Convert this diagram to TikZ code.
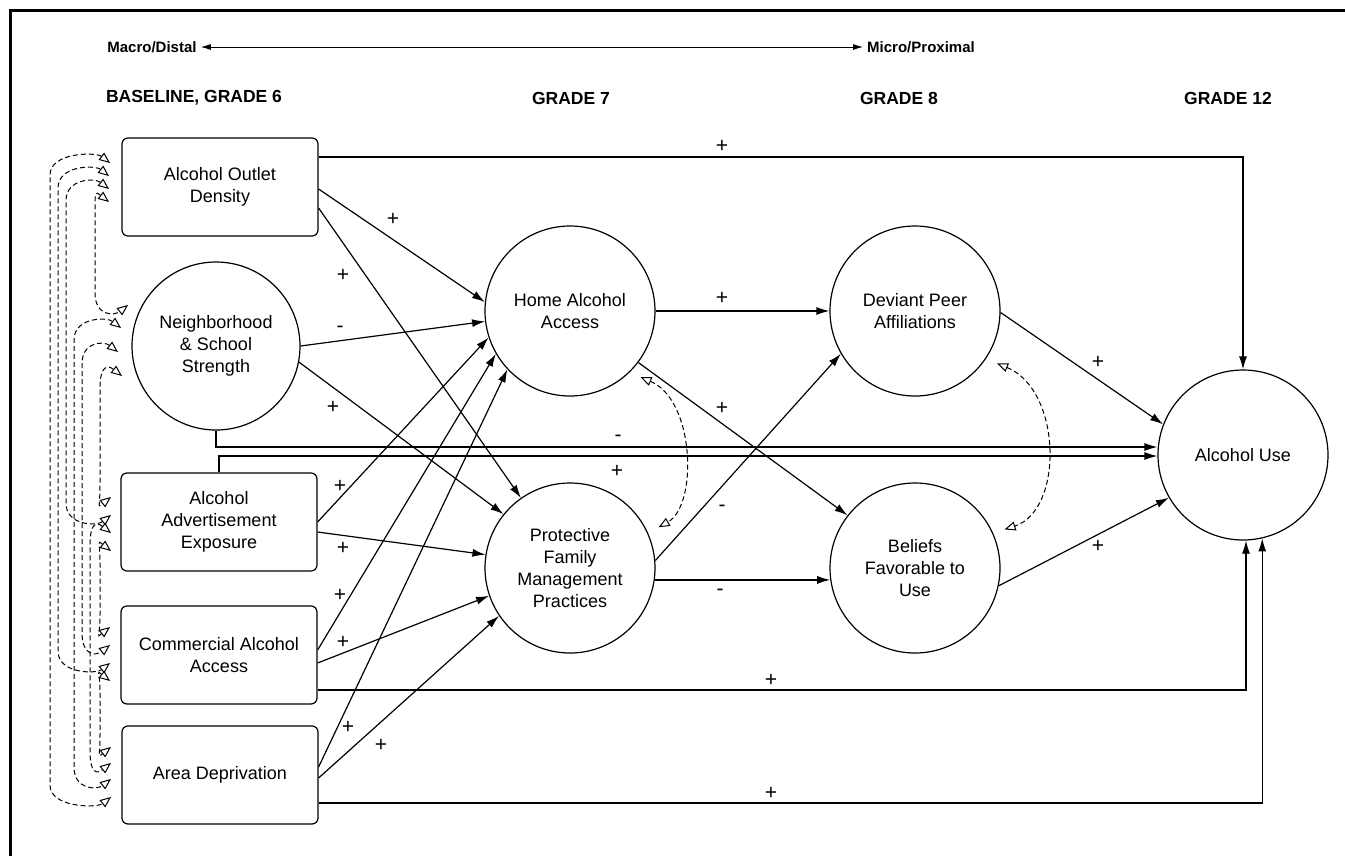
\documentclass[tikz,border=0pt]{standalone}
\usepackage{fontspec}
\setmainfont{Liberation Sans}
\usetikzlibrary{arrows.meta,calc}
\newcommand\corrarc[3]{\draw[corr] let \p1=(#1), \p2=(#2) in (#1) .. controls (\x1-14pt,\y1+11pt) and (#3pt,\y1+11pt) .. (#3pt,\y1-12pt) -- (#3pt,\y2+12pt) .. controls (#3pt,\y2-11pt) and (\x2-14pt,\y2-11pt) .. (#2);}
\begin{document}
\begin{tikzpicture}[x=1pt,y=-1pt,
  txt/.style={font=\fontsize{18}{22}\selectfont, align=center},
  circ/.style={txt, circle, draw, line width=1.2pt, minimum size=170pt, inner sep=0pt},
  box/.style={txt, rectangle, rounded corners=6pt, draw, line width=1.2pt, minimum width=196pt, minimum height=98pt, inner sep=0pt},
  head/.style={font=\fontsize{17.5}{20}\selectfont\bfseries},
  sgn/.style={font=\fontsize{21}{22}\selectfont, inner sep=1pt},
  conn/.style={-{Latex[length=13pt,width=8pt]}, line width=1.2pt},
  corr/.style={dash pattern=on 5pt off 3pt, line width=1pt, >={Triangle[open,length=11pt,width=9pt]}, <->},
]
\useasboundingbox (0,0) rectangle (1345,855);
\draw[line width=3pt] (10,856) -- (10,10) -- (1346,10);

% header
\node[font=\fontsize{15}{16}\selectfont\bfseries, inner sep=4pt] (macro) at (152,47) {Macro/Distal};
\node[font=\fontsize{15}{16}\selectfont\bfseries, inner sep=4pt] (micro) at (921,47) {Micro/Proximal};
\draw[{Latex[length=10pt,width=6pt]}-{Latex[length=10pt,width=6pt]}, line width=0.9pt] (macro.east) -- (micro.west);
\node[head] (g6) at (194,98) {BASELINE, GRADE 6};
\node[head] (g7) at (571,98) {GRADE 7};
\node[head] (g8) at (899,98) {GRADE 8};
\node[head] (g12) at (1228,98) {GRADE 12};

% nodes
\node[box] (od) at (220,187) {Alcohol Outlet\\Density};
\node[circ, minimum size=168pt] (nb) at (216,346) {Neighborhood\\\& School\\Strength};
\node[box] (ad) at (219,522) {Alcohol\\Advertisement\\Exposure};
\node[box] (ca) at (219,655) {Commercial Alcohol\\Access};
\node[box] (ar) at (220,775) {Area Deprivation};
\node[circ] (ha) at (570,311) {Home Alcohol\\Access};
\node[circ] (pf) at (570,568) {Protective\\Family\\Management\\Practices};
\node[circ] (dp) at (915,311) {Deviant Peer\\Affiliations};
\node[circ] (bf) at (915,568) {Beliefs\\Favorable to\\Use};
\node[circ] (au) at (1243,455) {Alcohol Use};

% connectors
\draw[conn] (od.east |- 0,157) -| (au.north);
\draw[conn] (od.east |- 0,189) -- (ha.174);
\draw[conn] (od.east |- 0,208) -- (pf.125);
\draw[conn] (nb.0) -- (ha.187);
\draw[conn] (nb.-11) -- (pf.141);
\draw[conn] (nb.south) |- (au.west |- 0,447);
\draw[conn] (ad.north) |- (au.west |- 0,456);
\draw[conn] (ad.east |- 0,522) -- (ha.198);
\draw[conn] (ad.east |- 0,532) -- (pf.171);
\draw[conn] (ca.east |- 0,650) -- (ha.210);
\draw[conn] (ca.east |- 0,663) -- (pf.199);
\draw[conn] (ca.east |- 0,690) -| ([xshift=3pt]au.south);
\draw[conn] (ar.east |- 0,767) -- (ha.223);
\draw[conn] (ar.east |- 0,778) -- (pf.214);
\draw[conn] (ar.east |- 0,803) -| (au.-77);
\draw[conn] (ha.east) -- (dp.west);
\draw[conn] (ha.-37) -- (bf.142);
\draw[conn] (pf.5) -- (dp.210);
\draw[conn] (pf.-8) -- (bf.188);
\draw[conn] (dp.-1) -- (au.159);
\draw[conn] (bf.-12) -- (au.210);

% correlations between mediators
\draw[corr, shorten <=12pt, shorten >=12pt] (ha.-46) .. controls (695,400) and (698,505) .. (pf.24);
\draw[corr, shorten <=12pt, shorten >=12pt] (dp.-34) .. controls (1062,390) and (1064,510) .. (bf.24);

% correlation end points on the left
\coordinate (od1) at (110,163); \coordinate (od2) at (109,176);
\coordinate (od3) at (109,189); \coordinate (od4) at (109,202);
\coordinate (nb1) at (128,305); \coordinate (nb2) at (121,328);
\coordinate (nb3) at (118,352); \coordinate (nb4) at (122,376);
\coordinate (ad1) at (111,497); \coordinate (ad2) at (111,515);
\coordinate (ad3) at (111,533); \coordinate (ad4) at (111,551);
\coordinate (ca1) at (110,627); \coordinate (ca2) at (110,645);
\coordinate (ca3) at (110,663); \coordinate (ca4) at (110,681);
\coordinate (ar1) at (111,747); \coordinate (ar2) at (111,763);
\coordinate (ar3) at (111,779); \coordinate (ar4) at (111,797);

\corrarc{od4}{nb1}{95}
\corrarc{od3}{ad2}{66}
\corrarc{od2}{ca3}{58}
\corrarc{od1}{ar4}{50}
\corrarc{nb4}{ad1}{100}
\corrarc{nb3}{ca2}{82}
\corrarc{nb2}{ar3}{74}
\corrarc{ad4}{ca1}{100}
\corrarc{ad3}{ar2}{90}
\corrarc{ca4}{ar1}{100}

% signs
\node[sgn] (l1) at (722,146) {+};
\node[sgn] (l2) at (393,219) {+};
\node[sgn] (l3) at (343,275) {+};
\node[sgn] (l4) at (340,329) {-};
\node[sgn] (l5) at (333,407) {+};
\node[sgn] (l6) at (618,438) {-};
\node[sgn] (l7) at (617,471) {+};
\node[sgn] (l8) at (340,486) {+};
\node[sgn] (l9) at (343,548) {+};
\node[sgn] (l10) at (340,595) {+};
\node[sgn] (l11) at (343,642) {+};
\node[sgn] (l12) at (348,727) {+};
\node[sgn] (l13) at (381,745) {+};
\node[sgn] (l14) at (771,680) {+};
\node[sgn] (l15) at (771,793) {+};
\node[sgn] (l16) at (722,298) {+};
\node[sgn] (l17) at (722,408) {+};
\node[sgn] (l18) at (722,508) {-};
\node[sgn] (l19) at (720,592) {-};
\node[sgn] (l20) at (1098,362) {+};
\node[sgn] (l21) at (1098,546) {+};
\end{tikzpicture}
\end{document}
